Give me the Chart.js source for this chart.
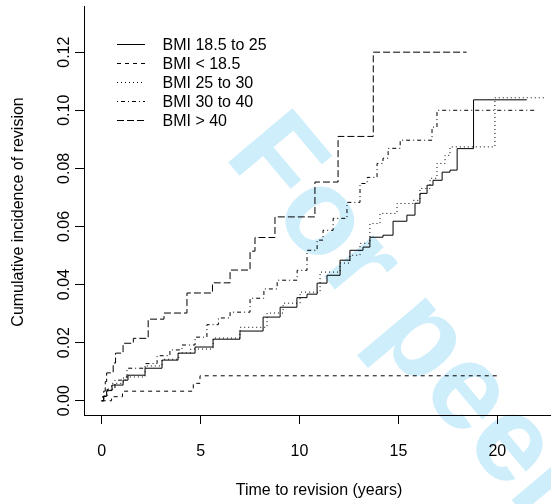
<!DOCTYPE html>
<html>
<head>
<meta charset="UTF-8">
<title>Cumulative incidence of revision by BMI</title>
<script src="https://cdn.jsdelivr.net/npm/chart.js@4"></script>
<style>
  body { margin: 0; background: #fff; }
  #wrap { width: 551px; height: 504px; }
</style>
</head>
<body>
<div id="wrap"><canvas id="cif" width="551" height="504"></canvas></div>
<script>
// series, in legend order
const seriesLabels = ['BMI 18.5 to 25', 'BMI < 18.5', 'BMI 25 to 30', 'BMI 30 to 40', 'BMI > 40'];

// time (years) / cumulative incidence
const timeNormal = [0, 0.1, 0.25, 0.52, 1.08, 1.33, 2.19, 3.05, 3.86, 4.72, 5.63, 6.99, 8.16, 9.02, 9.87, 10.38, 10.89, 11.39, 12.05, 12.55, 13.21, 13.56, 14.22, 14.73, 15.43, 15.84, 16.09, 16.45, 16.75, 17.21, 17.61, 17.97, 18.8, 21.49];
const cumNormal  = [0, 0.0015, 0.0035, 0.0054, 0.0071, 0.0088, 0.0112, 0.014, 0.0164, 0.0185, 0.0212, 0.024, 0.0288, 0.0322, 0.0355, 0.0367, 0.0405, 0.0432, 0.0484, 0.0518, 0.0529, 0.0563, 0.057, 0.0618, 0.0639, 0.068, 0.0714, 0.0742, 0.0759, 0.0787, 0.0794, 0.0868, 0.1036, 0.1036];

const timeUnder = [0, 0.5, 1.05, 4.63, 4.97, 20.1];
const cumUnder  = [0, 0.0014, 0.0033, 0.006, 0.0086, 0.0086];

const timeOver = [0, 0.1, 0.25, 0.5, 1.1, 2.2, 3.05, 3.9, 4.5, 5.63, 6.99, 8.36, 9.17, 10.03, 11.04, 12.05, 12.55, 13.06, 13.56, 14.07, 14.93, 15.74, 16.09, 16.6, 16.95, 17.36, 17.61, 19.88, 22.36];
const cumOver  = [0, 0.0018, 0.0038, 0.006, 0.0082, 0.012, 0.0143, 0.0165, 0.0178, 0.0216, 0.0253, 0.0302, 0.0336, 0.0374, 0.0443, 0.0474, 0.0501, 0.0542, 0.061, 0.0645, 0.0679, 0.069, 0.0731, 0.0766, 0.0817, 0.0845, 0.0874, 0.1043, 0.1043];

const timeObese = [0, 0.05, 0.3, 0.67, 1.28, 2.19, 2.8, 3.45, 4.06, 4.72, 5.32, 5.9, 6.49, 7.5, 8.2, 8.87, 9.88, 10.38, 10.89, 11.19, 11.7, 12.4, 13.06, 13.42, 13.92, 14.22, 14.48, 15.09, 16.7, 16.95, 22.0];
const cumObese  = [0, 0.0015, 0.004, 0.0071, 0.0112, 0.0128, 0.0155, 0.0175, 0.0192, 0.0219, 0.0262, 0.0285, 0.0305, 0.0353, 0.0385, 0.0415, 0.0449, 0.0518, 0.0553, 0.0587, 0.0628, 0.0683, 0.0748, 0.0769, 0.0817, 0.0835, 0.0869, 0.0897, 0.0942, 0.1, 0.1];

const timeMorbid = [0, 0.1, 0.18, 0.25, 0.58, 0.7, 1.08, 1.6, 2.35, 3.15, 4.31, 5.6, 6.49, 7.5, 7.75, 8.76, 10.78, 11.95, 13.73, 18.45];
const cumMorbid  = [0, 0.0033, 0.0066, 0.0096, 0.013, 0.0164, 0.0198, 0.0215, 0.0281, 0.0302, 0.0371, 0.0406, 0.045, 0.0515, 0.0562, 0.0633, 0.0753, 0.091, 0.12, 0.12];

const xTicks = [0, 5, 10, 15, 20];
const xTickLabels = ['0', '5', '10', '15', '20'];
const yTicks = [0, 0.02, 0.04, 0.06, 0.08, 0.10, 0.12];
const yTickLabels = ['0.00', '0.02', '0.04', '0.06', '0.08', '0.10', '0.12'];
const xTitle = 'Time to revision (years)';
const yTitle = 'Cumulative incidence of revision';
const watermark = 'For peer review';

// R line types: solid, dashed, dotted, dotdash, longdash
const seriesDashes = [[], [4, 4], [1, 3], [1, 3, 4, 3], [7, 3]];

const FONT = '16px "Liberation Sans", Arial, sans-serif';

const toPoints = (ts, vs) => ts.map((t, i) => ({ x: t, y: vs[i] }));
const seriesData = [
  toPoints(timeNormal, cumNormal),
  toPoints(timeUnder, cumUnder),
  toPoints(timeOver, cumOver),
  toPoints(timeObese, cumObese),
  toPoints(timeMorbid, cumMorbid)
];

const datasets = seriesLabels.map((label, i) => ({
  label,
  data: seriesData[i],
  borderColor: '#000',
  borderWidth: 1,
  borderDash: seriesDashes[i],
  stepped: 'before',
  pointRadius: 0,
  fill: false
}));

// faint diagonal stamp behind everything
const stampPlugin = {
  id: 'stamp',
  beforeDraw(chart) {
    const ctx = chart.ctx;
    ctx.save();
    ctx.translate(223, 156);
    ctx.rotate(50 * Math.PI / 180);
    ctx.font = 'bold 122px "Liberation Sans", Arial, sans-serif';
    ctx.fillStyle = '#cfeefb';
    ctx.textAlign = 'left';
    ctx.textBaseline = 'alphabetic';
    ctx.fillText(watermark, 0, 0);
    ctx.restore();
  }
};

// tick labels and titles, R style (y labels turned upright)
const axisTextPlugin = {
  id: 'axisText',
  afterDraw(chart) {
    const { ctx, scales: { x, y }, chartArea } = chart;
    ctx.save();
    ctx.fillStyle = '#000';
    ctx.font = FONT;
    ctx.textAlign = 'center';
    ctx.textBaseline = 'alphabetic';
    xTicks.forEach((v, i) => {
      ctx.fillText(xTickLabels[i], x.getPixelForValue(v), chartArea.bottom + 40.5);
    });
    ctx.fillText(xTitle, 319, chartArea.bottom + 79.5);
    yTicks.forEach((v, i) => {
      ctx.save();
      ctx.translate(chartArea.left - 15, y.getPixelForValue(v));
      ctx.rotate(-Math.PI / 2);
      ctx.fillText(yTickLabels[i], 0, 0);
      ctx.restore();
    });
    ctx.save();
    ctx.translate(23, y.getPixelForValue(0.065));
    ctx.rotate(-Math.PI / 2);
    ctx.fillText(yTitle, 0, 0);
    ctx.restore();
    ctx.restore();
  }
};

// boxless legend in the top left corner
const legendPlugin = {
  id: 'rLegend',
  afterDatasetsDraw(chart) {
    const ctx = chart.ctx;
    ctx.save();
    ctx.font = FONT;
    ctx.fillStyle = '#000';
    ctx.textAlign = 'left';
    ctx.textBaseline = 'middle';
    chart.data.datasets.forEach((ds, i) => {
      const ly = 44.5 + i * 19;
      ctx.strokeStyle = ds.borderColor;
      ctx.lineWidth = ds.borderWidth;
      ctx.setLineDash(ds.borderDash);
      ctx.beginPath();
      ctx.moveTo(117, ly);
      ctx.lineTo(145, ly);
      ctx.stroke();
      ctx.fillText(ds.label, 162.5, ly + 1.5);
    });
    ctx.restore();
  }
};

new Chart(document.getElementById('cif'), {
  type: 'line',
  data: { datasets },
  options: {
    responsive: false,
    animation: false,
    devicePixelRatio: 1,
    layout: { padding: { top: 6, right: 0, bottom: 0, left: 0 } },
    plugins: {
      legend: { display: false },
      tooltip: { enabled: false }
    },
    scales: {
      x: {
        type: 'linear',
        min: -0.895,
        max: 22.715,
        afterBuildTicks: s => { s.ticks = xTicks.map(v => ({ value: v })); },
        afterFit: s => { s.height = 89; },
        ticks: { display: false },
        grid: { drawOnChartArea: false, drawTicks: true, tickLength: 9, color: '#000' },
        border: { display: true, color: '#000', width: 1 }
      },
      y: {
        type: 'linear',
        min: -0.0049,
        max: 0.1359,
        afterBuildTicks: s => { s.ticks = yTicks.map(v => ({ value: v })); },
        afterFit: s => { s.width = 84; },
        ticks: { display: false },
        grid: { drawOnChartArea: false, drawTicks: true, tickLength: 9, color: '#000' },
        border: { display: true, color: '#000', width: 1 }
      }
    }
  },
  plugins: [stampPlugin, axisTextPlugin, legendPlugin]
});
</script>
</body>
</html>
